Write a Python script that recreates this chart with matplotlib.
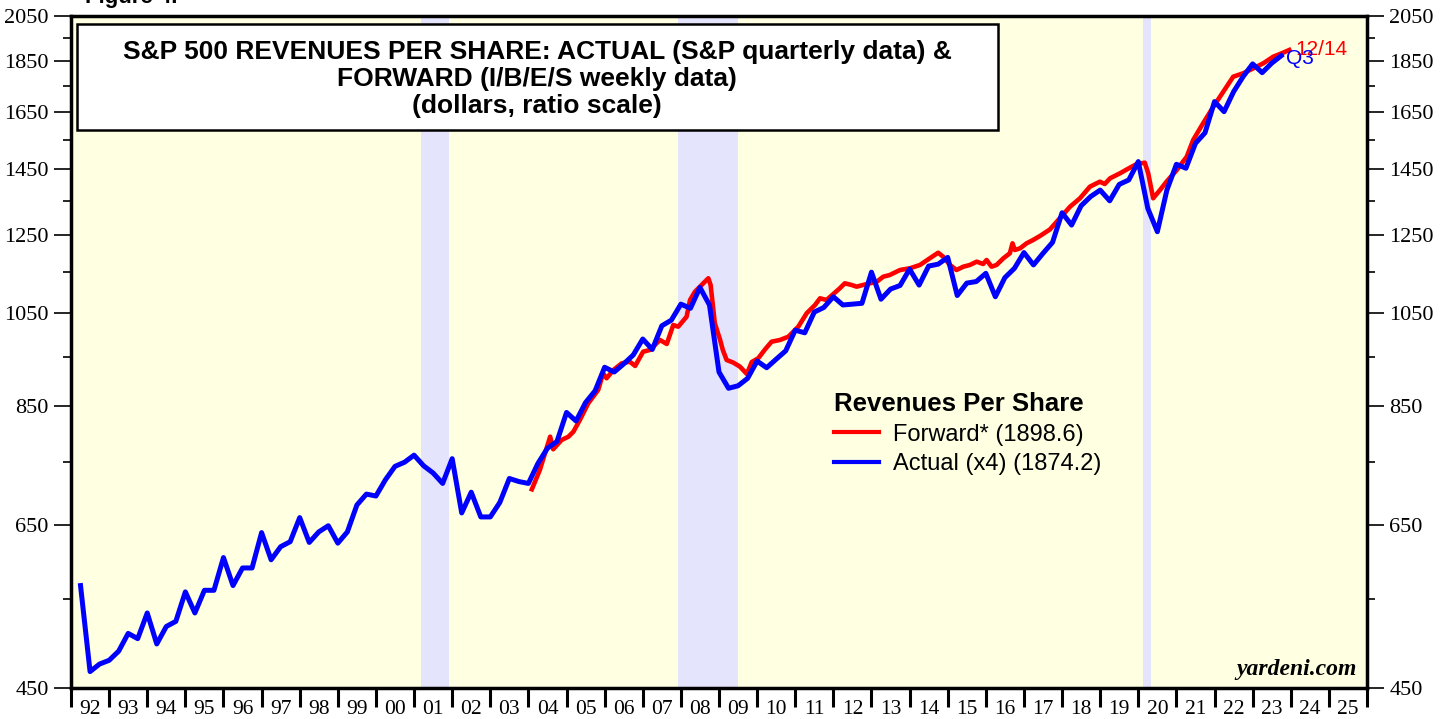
import numpy as np
import pandas as pd
import matplotlib
matplotlib.use("Agg")
import matplotlib.pyplot as plt
from matplotlib.patches import Rectangle
from matplotlib.lines import Line2D
from matplotlib.ticker import FixedLocator, FixedFormatter, NullFormatter

# actual revenues per share (x4), quarterly 1992Q1 .. 2023Q3
actual_start = "1992Q1"
actual_end = "2023Q3"
actual = [
    567, 467, 475, 479,   489, 509, 503, 533,   497, 517, 523, 559,
    533, 561, 561, 604,   567, 590, 590, 639,   601, 619, 626, 661,
    625, 640, 649, 624,   640, 680, 697, 694,   720, 742, 749, 761,
    743, 731, 714, 755,   668, 700, 662, 662,   684, 722, 717, 714,
    747, 773, 785, 838,   822, 857, 880, 928,   918, 935, 954, 989,
    966, 1019, 1032, 1070, 1060, 1111, 1068, 918, 885, 890, 905, 941,
    927, 945, 963, 1009,  1003, 1051, 1062, 1088, 1068, 1070, 1072, 1150,
    1082, 1107, 1116, 1158, 1117, 1166, 1171, 1189, 1091, 1122, 1126, 1147,
    1088, 1136, 1160, 1202, 1169, 1200, 1230, 1315, 1279, 1336, 1364, 1384,
    1351, 1402, 1416, 1476, 1328, 1260, 1384, 1467, 1454, 1538, 1575, 1690,
    1652, 1728, 1788, 1840, 1804, 1843, 1874.2,
]

fwd_year = [
    2004.09, 2004.30, 2004.57, 2004.65, 2004.87, 2005.05, 2005.18, 2005.35,
    2005.57, 2005.83, 2005.96, 2006.05, 2006.23, 2006.45, 2006.66, 2006.80,
    2007.01, 2007.19, 2007.45, 2007.63, 2007.80, 2007.93, 2008.15, 2008.24,
    2008.37, 2008.63, 2008.72, 2008.78, 2008.89, 2009.03, 2009.10, 2009.20,
    2009.37, 2009.55, 2009.73, 2009.86, 2010.03, 2010.21, 2010.38, 2010.60,
    2010.82, 2011.08, 2011.30, 2011.52, 2011.65, 2011.82, 2012.00, 2012.17,
    2012.30, 2012.48, 2012.61, 2012.78, 2012.96, 2013.14, 2013.31, 2013.48,
    2013.75, 2014.01, 2014.27, 2014.53, 2014.75, 2014.88, 2015.06, 2015.23,
    2015.41, 2015.58, 2015.76, 2015.93, 2016.02, 2016.15, 2016.28, 2016.46,
    2016.63, 2016.70, 2016.76, 2016.90, 2017.07, 2017.24, 2017.42, 2017.68,
    2017.94, 2018.21, 2018.47, 2018.73, 2018.99, 2019.12, 2019.26, 2019.52,
    2019.78, 2019.96, 2020.17, 2020.26, 2020.39, 2020.57, 2020.74, 2021.01,
    2021.27, 2021.44, 2021.70, 2021.97, 2022.23, 2022.49, 2022.75, 2023.02,
    2023.28, 2023.54, 2023.80, 2023.96,
]
fwd = [
    704.6, 736.0, 793.4, 771.2, 787.5, 793.4, 802.4, 823.9,
    855.5, 881.6, 915.4, 905.2, 922.3, 936.3, 939.7, 930.7,
    961.2, 964.9, 986.9, 978.0, 1020.8, 1016.9, 1040.1, 1080.1,
    1100.5, 1125.6, 1134.3, 1117.3, 1024.8, 986.9, 964.9, 943.3,
    938.0, 929.2, 914.0, 939.1, 947.0, 966.4, 983.1, 986.9,
    994.2, 1016.9, 1048.2, 1068.0, 1084.2, 1080.1, 1094.8, 1109.0,
    1121.5, 1117.3, 1113.0, 1117.3, 1121.5, 1125.6, 1138.4, 1142.7,
    1155.7, 1160.2, 1168.8, 1186.6, 1201.7, 1190.9, 1168.8, 1155.7,
    1164.4, 1168.8, 1177.6, 1171.5, 1182.1, 1164.4, 1168.8, 1186.6,
    1200.1, 1227.5, 1209.1, 1213.7, 1227.5, 1236.7, 1247.9, 1266.3,
    1298.7, 1333.2, 1358.7, 1394.7, 1410.5, 1403.2, 1421.4, 1437.5,
    1455.8, 1468.0, 1472.3, 1437.5, 1358.7, 1384.3, 1410.5, 1448.2,
    1492.3, 1549.7, 1609.2, 1670.6, 1728.1, 1787.6, 1801.4, 1821.8,
    1842.5, 1870.1, 1887.1, 1898.6,
]

recessions = [(2001.17, 2001.92), (2007.92, 2009.50), (2020.13, 2020.33)]
y_major = [450, 650, 850, 1050, 1250, 1450, 1650, 1850, 2050]
y_minor = [550, 750, 950, 1150, 1350, 1550, 1750, 1950]
years = list(range(1992, 2026))

qtr = pd.period_range(actual_start, actual_end, freq="Q")
actual_x = qtr.year + qtr.quarter / 4.0

SERIF = "Liberation Serif"
SANS = "Liberation Sans"

fig = plt.figure(figsize=(14.47, 7.19), dpi=100)
ax = fig.add_axes([71 / 1447, 1 - 688 / 719, 1296 / 1447, 672 / 719])
ax.set_facecolor("#FFFFE2")

for a, b in recessions:
    ax.axvspan(a, b, color="#E4E4FC", lw=0, zorder=1)

ax.plot(fwd_year, fwd, color="#FF0000", lw=3.3, zorder=3, solid_joinstyle="round")
ax.plot(actual_x, actual, color="#0000FF", lw=3.6, zorder=4, solid_joinstyle="round")

ax.set_yscale("log")
ax.set_ylim(450, 2050)
ax.set_xlim(1992, 2026)

ax.yaxis.set_major_locator(FixedLocator(y_major))
ax.yaxis.set_major_formatter(FixedFormatter([str(v) for v in y_major]))
ax.yaxis.set_minor_locator(FixedLocator(y_minor))
ax.yaxis.set_minor_formatter(NullFormatter())
ax.tick_params(axis="y", which="both", direction="out", left=True, right=True,
               labelleft=True, labelright=True, width=1.2, pad=4)
ax.tick_params(axis="y", which="major", length=12)
ax.tick_params(axis="y", which="minor", length=6)

ax.xaxis.set_major_locator(FixedLocator(years + [2026]))
ax.xaxis.set_major_formatter(NullFormatter())
ax.xaxis.set_minor_locator(FixedLocator([y + 0.5 for y in years]))
ax.xaxis.set_minor_formatter(FixedFormatter([f"{y % 100:02d}" for y in years]))
ax.tick_params(axis="x", which="major", direction="out", length=14, width=2.2)
ax.tick_params(axis="x", which="minor", length=0, pad=8.5)

for lbl in ax.get_xticklabels(minor=True):
    lbl.set_fontfamily(SERIF)
    lbl.set_fontsize(15.5)
for t in ax.yaxis.get_major_ticks():
    for lbl in (t.label1, t.label2):
        lbl.set_fontfamily(SERIF)
        lbl.set_fontsize(16)

for s in ax.spines.values():
    s.set_linewidth(2.5)
    s.set_color("black")

# title box
box = Rectangle((6 / 1296, 1 - 114 / 672), 921 / 1296, 106 / 672, transform=ax.transAxes,
                facecolor="white", edgecolor="black", lw=1.8, zorder=6)
ax.add_patch(box)
title_lines = ["S&P 500 REVENUES PER SHARE: ACTUAL (S&P quarterly data) &",
               "FORWARD (I/B/E/S weekly data)",
               "(dollars, ratio scale)"]
for i, line in enumerate(title_lines):
    ax.text(466 / 1296, 1 - (36 + 27 * i) / 672, line, transform=ax.transAxes,
            ha="center", va="center", fontsize=19, fontweight="bold",
            family=SANS, zorder=7)

# legend
handles = [Line2D([], [], color="#FF0000", lw=3),
           Line2D([], [], color="#0000FF", lw=3)]
leg = ax.legend(handles, ["Forward* (1898.6)", "Actual (x4) (1874.2)"],
                title="Revenues Per Share", loc="upper left",
                bbox_to_anchor=(751 / 1296, 1 - 364 / 672), frameon=False,
                prop={"family": SANS, "size": 17}, handlelength=1.9,
                handletextpad=0.6, labelspacing=0.33, borderpad=0,
                alignment="left",
                title_fontproperties={"family": SANS, "size": 18.5, "weight": "bold"})

ax.text(2024.13, 1900, "12/14", color="#FF0000", fontsize=15, family=SANS,
        ha="left", va="center", zorder=5)
ax.text(2023.88, 1862, "Q3", color="#0000FF", fontsize=15, family=SANS,
        ha="left", va="center", zorder=5)

ax.text(0.992, 0.012, "yardeni.com", transform=ax.transAxes, ha="right", va="bottom",
        fontsize=17, family=SERIF, fontweight="bold", style="italic")

fig.text(85 / 1447, 1 - 3 / 719, "Figure 4.", fontsize=16, family=SANS,
         fontweight="bold", ha="left", va="baseline")

fig.savefig("out.png", dpi=100)
